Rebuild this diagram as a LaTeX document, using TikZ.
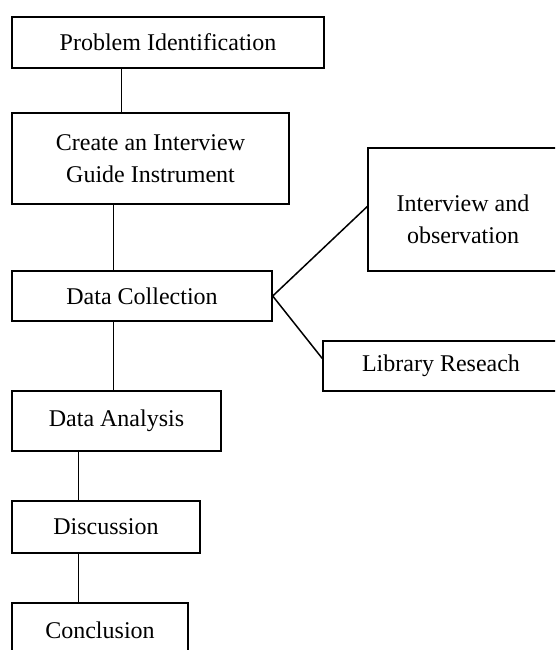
\documentclass[tikz,border=0pt]{standalone}
\usepackage{fontspec}
\setmainfont{Liberation Serif}
\begin{document}
\begin{tikzpicture}[x=1pt,y=-1pt,
  box/.style={draw,line width=1.4pt,inner sep=0pt,align=center,
    font=\fontsize{24}{32}\selectfont},
  link/.style={line width=1.5pt}]
\useasboundingbox (0,0) rectangle (555,650);
\clip (0,0) rectangle (555,650);
\node[box,minimum width=312pt,minimum height=51pt] (b1) at (168,42.5) {Problem Identification};
\node[box,minimum width=277pt,minimum height=91pt] (b2) at (150.5,158.5) {Create an Interview\\Guide Instrument};
\node[box,minimum width=260pt,minimum height=50pt] (b3) at (142,296) {Data Collection};
\node[box,minimum width=209pt,minimum height=60pt] (b4) at (116.5,421) {Data Analysis};
\node[box,minimum width=188pt,minimum height=52pt] (b5) at (106,527) {Discussion};
\node[box,minimum width=176pt,minimum height=54pt] (b6) at (100,630) {Conclusion};
\node[box,minimum width=190pt,minimum height=123pt,
  label={[font=\fontsize{24}{32}\selectfont,align=center,yshift=-10pt]center:Interview and\\observation}] (io) at (463,209.5) {};
\node[box,minimum width=236pt,minimum height=50pt] (lib) at (441,366) {Library Reseach};
\draw[link] ([xshift=110pt]b1.south west) -- ([xshift=110pt]b2.north west);
\draw[link] ([xshift=102pt]b2.south west) -- ([xshift=102pt]b3.north west);
\draw[link] ([xshift=102pt]b3.south west) -- ([xshift=102pt]b4.north west);
\draw[link] ([xshift=67pt]b4.south west) -- ([xshift=67pt]b5.north west);
\draw[link] ([xshift=67pt]b5.south west) -- ([xshift=67pt]b6.north west);
\draw[link] (b3.east) -- ([yshift=3pt]io.west);
\draw[link] (b3.east) -- ([yshift=7.5pt]lib.west);
\end{tikzpicture}
\end{document}
